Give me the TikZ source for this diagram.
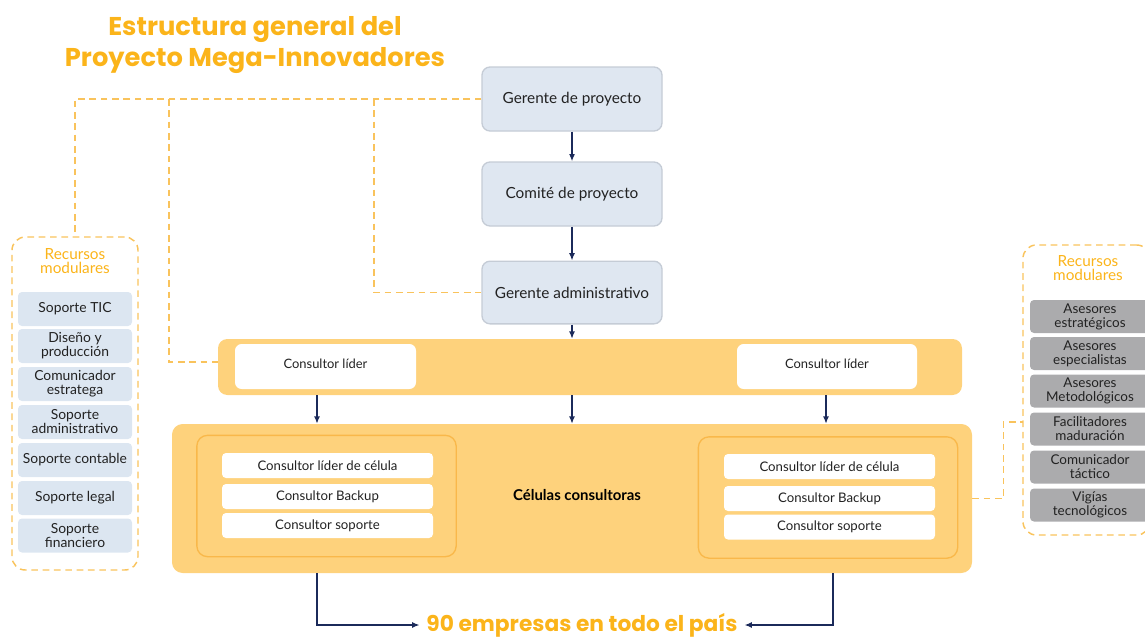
\documentclass[tikz,border=0pt]{standalone}
\usepackage{fontspec}
\setmainfont{Lato}
\newfontfamily\titlefont{Poppins}
\usetikzlibrary{arrows.meta}
\definecolor{torange}{HTML}{FBB41A}
\definecolor{dorange}{HTML}{F9C35C}
\definecolor{bandfill}{HTML}{FED27C}
\definecolor{cellborder}{HTML}{F9B84A}
\definecolor{bluefill}{HTML}{DFE7F1}
\definecolor{blueborder}{HTML}{C5CCD6}
\definecolor{resblue}{HTML}{DCE6F1}
\definecolor{resgray}{HTML}{ABABAD}
\definecolor{navy}{HTML}{1B2A5A}
\definecolor{txt}{HTML}{222222}
\tikzset{
  mgr/.style={draw=blueborder, line width=1pt, fill=bluefill, rounded corners=6pt,
    minimum width=135pt, minimum height=48pt, font=\fontsize{11.5}{13}\selectfont, text=txt},
  whitebox/.style={fill=white, rounded corners=5pt, font=\fontsize{9.7}{11}\selectfont, text=txt},
  rowbox/.style={fill=white, rounded corners=3pt, minimum width=158.25pt, minimum height=18.75pt,
    font=\fontsize{9.9}{11}\selectfont, text=txt, inner sep=0pt},
  cellbox/.style={draw=cellborder, line width=1pt, fill=bandfill, rounded corners=8pt,
    minimum width=194.5pt, minimum height=91pt},
  resbox/.style={draw=dorange, dash pattern=on 5pt off 3.5pt, line width=1.1pt, rounded corners=10pt},
  litem/.style={fill=resblue, rounded corners=3pt, minimum width=85.5pt, minimum height=25.5pt,
    inner sep=0pt, align=center, font=\fontsize{10.4}{10.5}\selectfont, text=txt},
  ritem/.style={fill=resgray, rounded corners=3pt, minimum width=90pt, minimum height=24.75pt,
    inner sep=0pt, align=center, font=\fontsize{10.1}{10.5}\selectfont, text=txt},
  restitle/.style={align=center, text=torange, font=\fontsize{11.5}{10.5}\selectfont},
  arr/.style={draw=navy, line width=1pt, -{Latex[length=5.5pt,width=4.5pt]}},
  dline/.style={draw=dorange, line width=1.1pt, dash pattern=on 5pt off 3.5pt},
}
\begin{document}
\begin{tikzpicture}[x=0.75pt,y=-0.75pt]
\useasboundingbox (0,0) rectangle (1145,639);
% title
\node[anchor=base, text=torange, font=\titlefont\bfseries\fontsize{19.3}{22}\selectfont] (t1) at (255,35) {Estructura general del};
\node[anchor=base, text=torange, font=\titlefont\bfseries\fontsize{19.3}{22}\selectfont] (t2) at (255,66) {Proyecto Mega-Innovadores};
% managers
\node[mgr] (gp) at (572,99) {Gerente de proyecto};
\node[mgr] (cp) at (572,194) {Comité de proyecto};
\node[mgr, minimum height=47pt] (ga) at (572,292.5) {Gerente administrativo};
% band
\node[fill=bandfill, rounded corners=7pt, minimum width=558pt, minimum height=42pt, inner sep=0pt] (band) at (590,367) {};
\node[whitebox, minimum width=135.75pt, minimum height=33.75pt, inner sep=0pt] (cl1) at (325.5,366.5) {\raisebox{4pt}{Consultor líder}};
\node[whitebox, minimum width=135pt, minimum height=33.75pt, inner sep=0pt] (cl2) at (827,366.5) {\raisebox{4pt}{Consultor líder}};
% big box
\node[fill=bandfill, rounded corners=8pt, minimum width=600pt, minimum height=111.75pt, inner sep=0pt] (big) at (572,498.5) {};
\node[cellbox] (c1) at (326.5,496) {};
\node[cellbox] (c2) at (828,497.5) {};
\node[font=\bfseries\fontsize{11.2}{12}\selectfont, text=black] (cc) at (577,495) {Células consultoras};
\node[rowbox] (r11) at (327.5,465.5) {Consultor líder de célula};
\node[rowbox] (r12) at (327.5,496.5) {Consultor Backup};
\node[rowbox] (r13) at (327.5,525.5) {Consultor soporte};
\node[rowbox] (r21) at (829.5,466.5) {Consultor líder de célula};
\node[rowbox] (r22) at (829.5,498.5) {Consultor Backup};
\node[rowbox] (r23) at (829.5,527) {Consultor soporte};
% bottom text
\node[text=torange, font=\titlefont\bfseries\fontsize{16.3}{18}\selectfont, inner sep=5pt] (emp) at (582,625) {90 empresas en todo el país};
% left resources
\node[resbox, minimum width=94.5pt, minimum height=249.75pt] (lres) at (75,403.5) {};
\node[restitle] (lrt) at (75,261) {Recursos\\modulares};
\node[litem] (l1) at (75,309) {Soporte TIC};
\node[litem] (l2) at (75,346) {Diseño y\\producción};
\node[litem] (l3) at (75,384) {Comunicador\\estratega};
\node[litem] (l4) at (75,422) {Soporte\\administrativo};
\node[litem] (l5) at (75,460) {Soporte contable};
\node[litem] (l6) at (75,498) {Soporte legal};
\node[litem] (l7) at (75,535.5) {Soporte\\financiero};
% right resources
\node[resbox, minimum width=95.25pt, minimum height=217.5pt] (rres) at (1086.5,390) {};
\node[restitle] (rrt) at (1088,268) {Recursos\\modulares};
\node[ritem] (a1) at (1090,316.5) {Asesores\\estratégicos};
\node[ritem] (a2) at (1090,353.5) {Asesores\\especialistas};
\node[ritem] (a3) at (1090,391) {Asesores\\Metodológicos};
\node[ritem] (a4) at (1090,429) {Facilitadores\\maduración};
\node[ritem] (a5) at (1090,467) {Comunicador\\táctico};
\node[ritem] (a6) at (1090,505) {Vigías\\tecnológicos};
% arrows
\draw[arr] (gp.south) -- (cp.north);
\draw[arr] (cp.south) -- (ga.north);
\draw[arr] (ga.south) -- (ga.south |- band.north);
\draw[arr] (band.south -| 317,0) -- (big.north -| 317,0);
\draw[arr] (band.south -| 572,0) -- (big.north -| 572,0);
\draw[arr] (band.south -| 826,0) -- (big.north -| 826,0);
\draw[arr] (big.south -| 317,0) |- (emp.west);
\draw[arr] (big.south -| 833,0) |- (emp.east);
% dashed connectors
\coordinate (j1) at (169,99);
\coordinate (j2) at (374,99);
\coordinate (bj) at (218,362);
\coordinate (rj) at (1023,422);
\draw[dline] (gp.west) -| (lres.north);
\draw[dline] (j1) |- (bj);
\draw[dline] (j2) |- (ga.west);
\draw[dline] (big.east) -- ++(31,0) |- (rj);
\end{tikzpicture}
\end{document}
